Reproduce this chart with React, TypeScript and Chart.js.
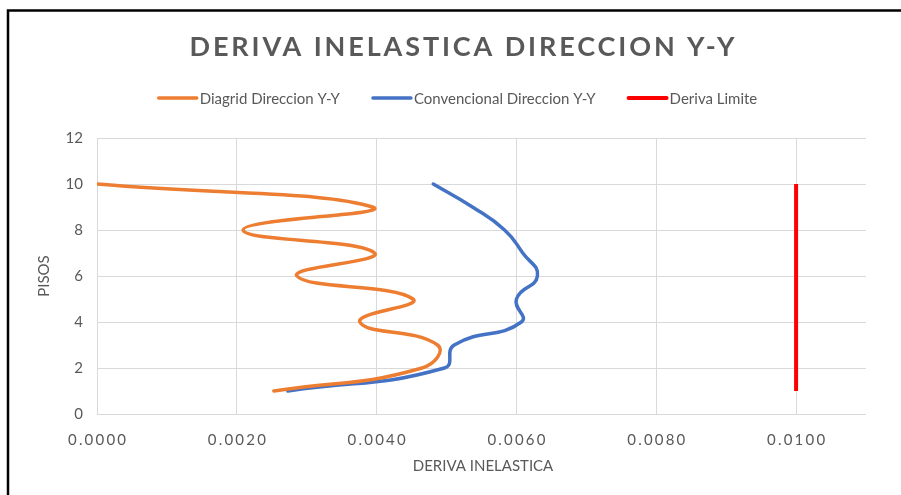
import { useEffect, useRef } from "react";
import { Chart, registerables } from "chart.js";

Chart.register(...registerables);

// Story levels and inelastic drift per story
const pisos = [1, 2, 3, 4, 5, 6, 7, 8, 9, 10];
const diagridY = [0.00253, 0.00465, 0.00487, 0.00376, 0.00452, 0.00286, 0.00397, 0.00209, 0.00394, 0.0];
const convencionalY = [0.00273, 0.00497, 0.00511, 0.00607, 0.006, 0.0063, 0.00609, 0.00583, 0.00537, 0.00481];
const limitePisos = [1, 10];
const limiteDeriva = [0.01, 0.01];

const xTickValues = [0, 0.002, 0.004, 0.006, 0.008, 0.01];
const xTickLabels = ["0.0000", "0.0020", "0.0040", "0.0060", "0.0080", "0.0100"];
const yTickValues = [0, 2, 4, 6, 8, 10, 12];

const seriesNames = ["Diagrid Direccion Y-Y", "Convencional Direccion Y-Y", "Deriva Limite"];
const seriesColors = ["#ED7D31", "#4472C4", "#FF0000"];

const titleText = "DERIVA INELASTICA DIRECCION Y-Y";
const xTitle = "DERIVA INELASTICA";
const yTitle = "PISOS";

const FONT = "Lato, 'Open Sans', sans-serif";
const TEXT_COLOR = "#595959";
const GRID_COLOR = "#D9D9D9";

const toPoints = (xs: number[], ys: number[]) => xs.map((x, i) => ({ x, y: ys[i] }));

const decorations = {
  id: "decorations",
  afterDraw(chart: any) {
    const ctx: CanvasRenderingContext2D = chart.ctx;
    const area = chart.chartArea;
    const xScale = chart.scales.x;
    ctx.save();

    // outer frame (left and top edges)
    ctx.strokeStyle = "#000";
    ctx.lineWidth = 2.5;
    ctx.beginPath();
    ctx.moveTo(8, 495);
    ctx.lineTo(8, 10.5);
    ctx.lineTo(901, 10.5);
    ctx.stroke();

    // chart title
    ctx.fillStyle = TEXT_COLOR;
    ctx.textBaseline = "middle";
    ctx.font = `bold 27px ${FONT}`;
    (ctx as any).letterSpacing = "0px";
    const base = ctx.measureText(titleText).width;
    const spacing = (545 - base) / (titleText.length - 1);
    (ctx as any).letterSpacing = `${spacing}px`;
    ctx.textAlign = "left";
    ctx.fillText(titleText, 462 - 545 / 2, 47);

    // legend
    (ctx as any).letterSpacing = "0px";
    ctx.font = `15px ${FONT}`;
    const sample = 40;
    const gapText = 2;
    const gapItem = 32;
    const widths = seriesNames.map((n) => ctx.measureText(n).width);
    const total = widths.reduce((a, b) => a + b, 0) + seriesNames.length * (sample + gapText) + gapItem * (seriesNames.length - 1);
    let lx = 457.5 - total / 2;
    const ly = 98;
    seriesNames.forEach((name, i) => {
      ctx.strokeStyle = seriesColors[i];
      ctx.lineWidth = i === 2 ? 4 : 3.5;
      ctx.lineCap = "round";
      ctx.beginPath();
      ctx.moveTo(lx + 1, ly);
      ctx.lineTo(lx + sample - 1, ly);
      ctx.stroke();
      ctx.fillStyle = TEXT_COLOR;
      ctx.textAlign = "left";
      ctx.fillText(name, lx + sample + gapText, ly + 1);
      lx += sample + gapText + widths[i] + gapItem;
    });

    // x tick labels
    ctx.font = `15px ${FONT}`;
    (ctx as any).letterSpacing = "2.2px";
    ctx.textAlign = "center";
    xTickValues.forEach((v, i) => {
      const px = xScale.getPixelForValue(v);
      ctx.fillText(xTickLabels[i], px + 1.1, 440);
    });

    // axis titles
    (ctx as any).letterSpacing = "0px";
    ctx.font = `15px ${FONT}`;
    ctx.fillText(xTitle, 483, 466);
    ctx.save();
    ctx.translate(44, (area.top + area.bottom) / 2);
    ctx.rotate(-Math.PI / 2);
    ctx.fillText(yTitle, 0, 0);
    ctx.restore();

    ctx.restore();
  },
};

export default function App() {
  const ref = useRef<HTMLCanvasElement | null>(null);

  useEffect(() => {
    if (!ref.current) return;
    const chart = new Chart(ref.current, {
      type: "scatter",
      data: {
        datasets: [
          {
            label: seriesNames[0],
            data: toPoints(diagridY, pisos),
            borderColor: seriesColors[0],
            backgroundColor: seriesColors[0],
            borderWidth: 3.5,
            showLine: true,
            tension: 0.5,
            pointRadius: 0,
            borderCapStyle: "round",
          },
          {
            label: seriesNames[1],
            data: toPoints(convencionalY, pisos),
            borderColor: seriesColors[1],
            backgroundColor: seriesColors[1],
            borderWidth: 3.5,
            showLine: true,
            tension: 0.5,
            pointRadius: 0,
            borderCapStyle: "round",
          },
          {
            label: seriesNames[2],
            data: toPoints(limiteDeriva, limitePisos),
            borderColor: seriesColors[2],
            backgroundColor: seriesColors[2],
            borderWidth: 4,
            showLine: true,
            pointRadius: 0,
          },
        ],
      },
      options: {
        animation: false,
        responsive: false,
        layout: { padding: { left: 37, right: 35, top: 138, bottom: 31 } },
        plugins: {
          legend: { display: false },
          title: { display: false },
          tooltip: { enabled: false },
        },
        elements: { line: { capBezierPoints: false } },
        scales: {
          x: {
            type: "linear",
            min: 0,
            max: 0.011,
            afterBuildTicks: (axis: any) => {
              axis.ticks = xTickValues.map((value) => ({ value }));
            },
            afterFit: (scale: any) => {
              scale.height = 50;
            },
            ticks: { display: false },
            grid: { color: GRID_COLOR, lineWidth: 1, drawTicks: false },
            border: { display: false },
          },
          y: {
            type: "linear",
            min: 0,
            max: 12,
            afterBuildTicks: (axis: any) => {
              axis.ticks = yTickValues.map((value) => ({ value }));
            },
            afterFit: (scale: any) => {
              scale.width = 60;
            },
            ticks: {
              color: TEXT_COLOR,
              font: { family: FONT, size: 15 },
              padding: 14,
            },
            grid: { color: GRID_COLOR, lineWidth: 1, drawTicks: false },
            border: { display: false },
          },
        },
      },
      plugins: [decorations],
    });
    return () => chart.destroy();
  }, []);

  return (
    <div style={{ position: "fixed", left: 0, top: 0, width: 901, height: 495, background: "#fff" }}>
      <canvas ref={ref} width={901} height={495} style={{ width: 901, height: 495 }} />
    </div>
  );
}
